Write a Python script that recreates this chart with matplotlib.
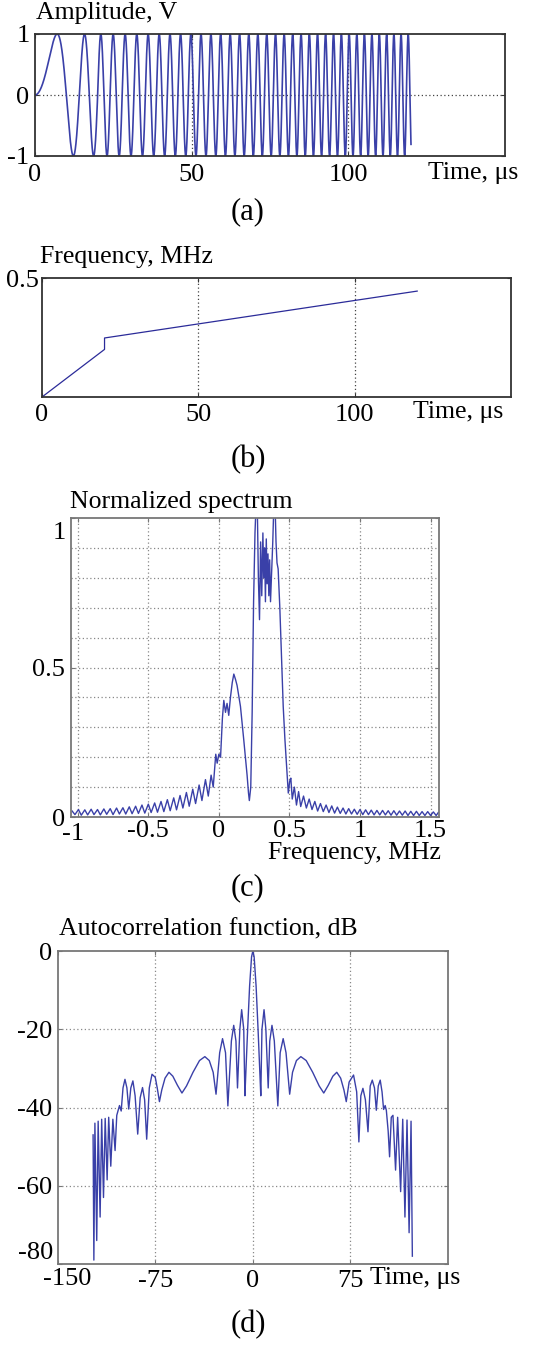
import numpy as np
import matplotlib
matplotlib.use("Agg")
import matplotlib.pyplot as plt

plt.rcParams['font.family'] = ['Liberation Serif', 'DejaVu Serif']
plt.rcParams['axes.unicode_minus'] = False

W, H = 538, 1353

# ---------------- data ----------------
# (b) instantaneous frequency law
freq_time_us = [0.0, 20.0, 20.0, 120.0]
freq_mhz = [0.0, 0.20, 0.248, 0.445]

# (c) normalized spectrum (traced peaks / troughs)
spec_freq_mhz = [
    -1.04, -1.02, -0.995, -0.975, -0.95, -0.93, -0.905, -0.885, -0.86, -0.84,
    -0.815, -0.795, -0.77, -0.75, -0.725, -0.705, -0.68, -0.66, -0.635, -0.615,
    -0.59, -0.57, -0.545, -0.525, -0.50, -0.48, -0.455, -0.435, -0.41, -0.39,
    -0.365, -0.345, -0.32, -0.30, -0.275, -0.255, -0.23, -0.21, -0.185, -0.165,
    -0.14, -0.12, -0.095, -0.075, -0.055, -0.04,
    -0.022, -0.012, 0.0, 0.012, 0.025, 0.035, 0.047, 0.058, 0.07, 0.082,
    0.095, 0.106, 0.118, 0.129, 0.153, 0.176, 0.2, 0.21, 0.216, 0.226,
    0.236, 0.246, 0.256, 0.264, 0.272, 0.28, 0.288, 0.296, 0.304, 0.312,
    0.318, 0.324, 0.33, 0.336, 0.342, 0.348, 0.354, 0.36, 0.366, 0.374,
    0.382, 0.39, 0.398, 0.405, 0.412, 0.42, 0.432, 0.444, 0.456, 0.468,
    0.48, 0.492, 0.502, 0.51, 0.52,
    0.535, 0.55, 0.565, 0.58, 0.60, 0.62, 0.64, 0.66, 0.68, 0.70,
    0.72, 0.74, 0.76, 0.78, 0.80, 0.82, 0.84, 0.86, 0.88, 0.90,
    0.92, 0.94, 0.96, 0.98, 1.00, 1.02, 1.04, 1.06, 1.08, 1.10,
    1.12, 1.14, 1.16, 1.18, 1.20, 1.22, 1.24, 1.26, 1.28, 1.30,
    1.32, 1.34, 1.36, 1.38, 1.40, 1.42, 1.44, 1.46, 1.48, 1.50,
    1.52, 1.54, 1.555]
spec_level = [
    0.020, 0.008, 0.025, 0.006, 0.024, 0.007, 0.026, 0.008, 0.025, 0.007,
    0.027, 0.009, 0.028, 0.008, 0.030, 0.010, 0.031, 0.010, 0.034, 0.011,
    0.036, 0.012, 0.040, 0.013, 0.043, 0.015, 0.047, 0.016, 0.052, 0.018,
    0.058, 0.021, 0.064, 0.024, 0.072, 0.030, 0.082, 0.036, 0.093, 0.045,
    0.107, 0.055, 0.125, 0.070, 0.140, 0.100,
    0.21, 0.18, 0.21, 0.20, 0.33, 0.39, 0.35, 0.38, 0.34, 0.40,
    0.45, 0.478, 0.46, 0.44, 0.37, 0.26, 0.14, 0.08, 0.055, 0.10,
    0.35, 0.72, 0.95, 1.05, 1.05, 0.80, 0.66, 0.92, 0.74, 0.95,
    0.80, 0.90, 0.72, 0.93, 0.78, 0.88, 0.74, 0.86, 0.72, 0.82,
    0.92, 1.05, 1.05, 0.92, 0.85, 0.83, 0.70, 0.54, 0.37, 0.26,
    0.17, 0.08, 0.12, 0.13, 0.06,
    0.100, 0.040, 0.085, 0.035, 0.070, 0.030, 0.060, 0.025, 0.052, 0.020,
    0.045, 0.018, 0.040, 0.015, 0.037, 0.013, 0.033, 0.012, 0.030, 0.010,
    0.028, 0.010, 0.026, 0.009, 0.025, 0.008, 0.024, 0.008, 0.023, 0.007,
    0.022, 0.007, 0.022, 0.007, 0.021, 0.006, 0.021, 0.006, 0.020, 0.006,
    0.020, 0.005, 0.019, 0.005, 0.019, 0.005, 0.018, 0.005, 0.018, 0.005,
    0.017, 0.005, 0.015]

# (d) autocorrelation function, dB (traced)
acf_time_us = [
    -122.8, -122.2, -121.4, -120.0, -118.9, -117.4, -116.2, -114.8, -113.5, -112.0,
    -110.8, -109.2, -107.6, -105.9, -104.6, -103.6, -102.5, -101.2, -99.8, -98.3,
    -96.8, -95.4, -93.8, -92.2, -90.5, -88.5, -86.6, -84.8, -83.2, -81.6,
    -79.6, -77.5, -75.0, -73.5, -71.8, -70.0, -67.5, -64.5, -61.5, -58.0,
    -54.5, -51.0, -46.0, -41.0, -36.9, -33.5, -30.5, -28.3, -25.5, -23.3,
    -21.0, -19.2, -16.5, -14.7, -13.0, -11.8, -10.0, -8.6, -7.0, -6.1,
    -5.5, -4.0, -2.5, -1.0, 0.0, 1.0, 2.5, 4.0, 5.5, 6.1,
    7.0, 8.6, 10.0, 11.8, 13.0, 14.7, 16.5, 19.2, 21.0, 23.3,
    25.5, 28.3, 30.5, 33.5, 36.9, 41.0, 46.0, 51.0, 54.5, 58.0,
    61.5, 64.5, 67.5, 70.0, 71.8, 74.0, 77.4, 79.8, 81.5, 83.0,
    84.6, 86.5, 88.5, 90.2, 91.8, 93.5, 94.9, 96.4, 97.9, 99.3,
    100.5, 101.7, 102.6, 104.0, 105.1, 106.4, 107.7, 109.7, 111.3, 113.6,
    115.2, 116.9, 118.5, 120.1, 121.6, 122.6]
acf_db = [
    -47.0, -79.0, -44.0, -74.0, -43.5, -68.0, -43.0, -63.0, -42.8, -58.5,
    -42.5, -55.0, -43.0, -51.0, -42.0, -40.8, -39.5, -40.9, -35.0, -32.8,
    -35.0, -40.4, -35.0, -33.2, -37.0, -46.8, -37.5, -34.9, -38.0, -48.1,
    -35.0, -31.5, -32.3, -35.0, -38.5, -35.5, -32.5, -31.0, -32.0, -34.3,
    -36.3, -34.5, -31.0, -28.0, -27.0, -28.0, -31.0, -36.6, -26.0, -22.4,
    -26.0, -39.6, -23.0, -19.0, -23.0, -35.0, -20.0, -15.0, -20.0, -37.0,
    -32.0, -20.0, -9.0, -1.5, 0.0, -1.5, -9.0, -20.0, -32.0, -37.0,
    -20.0, -15.0, -20.0, -35.0, -23.0, -19.0, -23.0, -39.6, -26.0, -22.4,
    -26.0, -36.6, -31.0, -28.0, -27.0, -28.0, -31.0, -34.5, -36.3, -34.3,
    -32.0, -31.0, -32.5, -35.5, -38.5, -33.5, -31.7, -36.0, -48.8, -37.0,
    -35.1, -38.0, -46.2, -34.5, -33.0, -35.0, -40.7, -34.5, -33.0, -36.0,
    -40.5, -39.5, -40.7, -46.0, -52.6, -42.5, -42.0, -56.0, -42.5, -61.5,
    -43.0, -68.0, -43.2, -72.0, -43.5, -78.0]

# axis ticks / labels
a_xticks = [0, 50, 100]
a_yticks = [-1, 0, 1]
a_ylabels = ['-1', '0', '1']
b_xticks = [0, 50, 100]
b_yticks = [0.5]
c_xticks = [-1, -0.5, 0, 0.5, 1, 1.5]
c_xlabels = ['-1', '-0.5', '0', '0.5', '1', '1.5']
c_yticks = [0, 0.5, 1]
c_ylabels = ['0', '0.5', '1']
c_xgrid = [-1, -0.5, 0, 0.5, 1, 1.5]
c_ygrid = [0.1, 0.2, 0.3, 0.4, 0.5, 0.6, 0.7, 0.8, 0.9]
d_xticks = [-150, -75, 0, 75]
d_xlabels = ['-150', '-75', '0', '75']
d_yticks = [0, -20, -40, -60, -80]
d_ylabels = ['0', '-20', '-40', '-60', '-80']
d_xgrid = [-75, 0, 75]
d_ygrid = [-20, -40, -60]

# ---------------- figure ----------------
fig = plt.figure(figsize=(W / 100, H / 100), dpi=100)
FT = 19      # tick labels
FL = 18.5    # titles / axis texts
FC = 22      # captions
LINE = '#3a40a8'


def box(l, t, r, b):
    return [l / W, 1 - b / H, (r - l) / W, (b - t) / H]


def ftext(x, y, s, ha='left', size=FL):
    fig.text(x / W, 1 - y / H, s, ha=ha, va='center', fontsize=size)


def style(ax, frame='#333333', xpad=4, ypad=4):
    for sp in ax.spines.values():
        sp.set_color(frame)
        sp.set_linewidth(1.3)
    ax.tick_params(direction='in', length=3, width=0.8, colors=frame,
                   labelcolor='black', labelsize=FT, top=True, right=True)
    ax.tick_params(axis='x', pad=xpad)
    ax.tick_params(axis='y', pad=ypad)


grid_kw = dict(color='#444444', lw=0.9, ls=(0, (1, 2)), zorder=0.5)
gkw2 = dict(color='#888888', lw=0.9, ls=(0, (1, 2)), zorder=0.5)

# (a) amplitude -- chirp built from the frequency law of panel (b)
ax = fig.add_axes(box(35, 34, 505, 156))
t1 = np.linspace(freq_time_us[0], freq_time_us[1], 4001)
t2 = np.linspace(freq_time_us[2], freq_time_us[3], 20001)
f1 = np.interp(t1, freq_time_us[:2], freq_mhz[:2])
f2 = np.interp(t2, freq_time_us[2:], freq_mhz[2:])
ph1 = np.concatenate([[0], np.cumsum((f1[1:] + f1[:-1]) / 2 * np.diff(t1))])
ph2 = ph1[-1] + np.concatenate([[0], np.cumsum((f2[1:] + f2[:-1]) / 2 * np.diff(t2))])
t_all = np.concatenate([t1, t2[1:]])
ph_all = np.concatenate([ph1, ph2[1:]])
ax.plot(t_all, np.sin(2 * np.pi * ph_all), color=LINE, lw=1.2, zorder=2)
ax.axhline(0, **grid_kw)
for g in [50, 100]:
    ax.axvline(g, **grid_kw)
ax.set_xlim(0, 150)
ax.set_ylim(-1, 1)
ax.set_xticks(a_xticks)
ax.set_yticks(a_yticks)
ax.set_yticklabels(a_ylabels)
style(ax, xpad=6)
ftext(36, 13, 'Amplitude, V')
ftext(428, 173, 'Time, μs')
ftext(248, 212, '(a)', ha='center', size=FC)

# (b) frequency
ax = fig.add_axes(box(42, 278, 511, 397))
ax.plot(freq_time_us, freq_mhz, color='#2b2b99', lw=0.9, zorder=2)
for g in [50, 100]:
    ax.axvline(g, **grid_kw)
ax.set_xlim(0, 150)
ax.set_ylim(0, 0.5)
ax.set_xticks(b_xticks)
ax.set_yticks(b_yticks)
ax.set_yticklabels(['0.5'])
style(ax, xpad=5, ypad=2)
ftext(40, 257, 'Frequency, MHz')
ftext(413, 412, 'Time, μs')
ftext(248, 460, '(b)', ha='center', size=FC)

# (c) normalized spectrum
ax = fig.add_axes(box(70.7, 518, 439, 817))
for g in c_xgrid:
    ax.axvline(g, **gkw2)
for g in c_ygrid:
    ax.axhline(g, **gkw2)
ax.plot(spec_freq_mhz, spec_level, color=LINE, lw=1.0, zorder=2)
ax.set_xlim(-1.05, 1.56)
ax.set_ylim(0, 1.0)
ax.set_xticks(c_xticks)
ax.set_xticklabels([''] + c_xlabels[1:])
ax.set_yticks(c_yticks)
ax.set_yticklabels(c_ylabels[:2] + [''])
style(ax, frame='#777777', xpad=2, ypad=4)
ftext(73, 834, c_xlabels[0], ha='center', size=FT)
ftext(66, 533, c_ylabels[2], ha='right', size=FT)
ftext(70, 502, 'Normalized spectrum')
ftext(268, 853, 'Frequency, MHz')
ftext(248, 888, '(c)', ha='center', size=FC)

# (d) autocorrelation
ax = fig.add_axes(box(57.7, 951, 448, 1264))
for g in d_xgrid:
    ax.axvline(g, **gkw2)
for g in d_ygrid:
    ax.axhline(g, **gkw2)
ax.plot(acf_time_us, acf_db, color=LINE, lw=1.0, zorder=2)
ax.set_xlim(-150, 150)
ax.set_ylim(-80, 0)
ax.set_xticks(d_xticks)
ax.set_xticklabels([''] + d_xlabels[1:])
ax.set_yticks(d_yticks)
ax.set_yticklabels(d_ylabels[:4] + [''])
style(ax, frame='#777777', xpad=4, ypad=4)
ftext(67, 1279, d_xlabels[0], ha='center', size=FT)
ftext(53, 1253, d_ylabels[4], ha='right', size=FT)
ftext(59, 929, 'Autocorrelation function, dB')
ftext(370, 1278, 'Time, μs')
ftext(248, 1325, '(d)', ha='center', size=FC)

fig.savefig('out.png', dpi=100)
